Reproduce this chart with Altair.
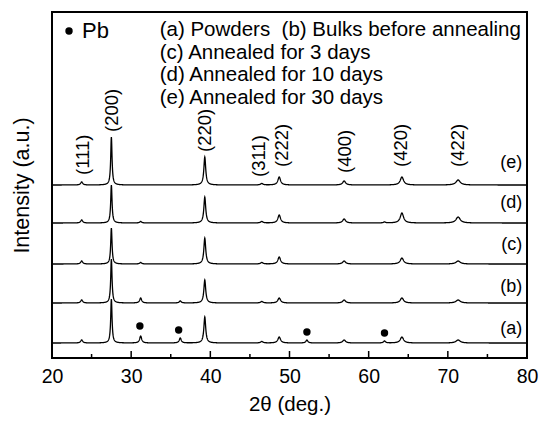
import altair as alt
import numpy as np
import pandas as pd

# ---- data ----
series = ["(a)", "(b)", "(c)", "(d)", "(e)"]
offsets = [15, 55, 94, 135, 173]          # baseline of each stacked pattern
peak_pos = [23.75, 27.5, 39.3, 46.5, 48.7, 56.9, 64.2, 71.3]   # FCC reflections
peak_hwhm = [0.15, 0.10, 0.14, 0.18, 0.20, 0.22, 0.25, 0.32]
peak_h = {
    "(a)": [3, 44, 26, 1.5, 6, 3, 6, 3],
    "(b)": [3, 44, 23, 1.5, 5, 3, 5, 3],
    "(c)": [3, 36, 26, 1.5, 7, 3, 6, 3],
    "(d)": [3, 38, 26, 1.5, 8, 4, 10, 6],
    "(e)": [3, 48, 28, 1.5, 8, 4, 8, 5],
}
pb_pos = [31.2, 36.2, 52.2, 62.0]
pb_h = {
    "(a)": [7, 5, 3, 2],
    "(b)": [5, 2, 0, 0],
    "(c)": [1.5, 0, 0, 0],
    "(d)": [1.5, 0, 0, 1],
    "(e)": [0, 0, 0, 0],
}
hkl_labels = ["(111)", "(200)", "(220)", "(311)", "(222)", "(400)", "(420)", "(422)"]
hkl_x = [23.9, 27.6, 39.3, 46.1, 49.0, 57.0, 64.1, 71.3]
hkl_y = [183, 226, 206, 181, 191, 185, 191, 191]
curve_label_y = [29, 71, 113, 155, 195]
pb_mark_x = [31.1, 36.0, 52.2, 62.0]
pb_mark_y = [32, 28, 26, 25]
legend_lines = ["(a) Powders\u00a0 (b) Bulks before annealing", "(c) Annealed for 3 days",
                "(d) Annealed for 10 days", "(e) Annealed for 30 days"]
legend_y = [328, 305, 283, 260]
major_ticks = [30, 40, 50, 60, 70]
minor_ticks = [25, 35, 45, 55, 65, 75]

# ---- build profiles from peak tables ----
tt = np.round(np.arange(20, 80.0001, 0.02), 3)
rows = []
for s, off in zip(series, offsets):
    y = np.full_like(tt, float(off))
    for p, w, h in zip(peak_pos, peak_hwhm, peak_h[s]):
        y += h / (1 + ((tt - p) / w) ** 2)
    for p, h in zip(pb_pos, pb_h[s]):
        if h:
            y += h / (1 + ((tt - p) / 0.15) ** 2)
    rows.append(pd.DataFrame({"x": tt, "y": y, "s": s}))
curves = pd.concat(rows)

FONT = "Liberation Sans"
xs = alt.Scale(domain=[20, 80], nice=False, zero=False)
ys = alt.Scale(domain=[0, 346], nice=False, zero=False)

lines = alt.Chart(curves).mark_line(color="black", strokeWidth=1.3, clip=True).encode(
    x=alt.X("x:Q", scale=xs, title="2θ (deg.)",
            axis=alt.Axis(values=[20, 30, 40, 50, 60, 70, 80], format="d", tickSize=0,
                          domain=False, grid=False, labelFontSize=19.5, labelFont=FONT,
                          labelColor="black", labelPadding=9, labelFlush=False,
                          titleFont=FONT, titleFontSize=20.5, titleFontWeight="normal",
                          titleColor="black", titlePadding=9)),
    y=alt.Y("y:Q", scale=ys, title="Intensity (a.u.)",
            axis=alt.Axis(labels=False, ticks=False, domain=False, grid=False,
                          titleFont=FONT, titleFontSize=21.5, titleFontWeight="normal",
                          titleColor="black", titlePadding=19)),
    detail="s:N",
)

tick_major = alt.Chart(pd.DataFrame({"x": major_ticks})).mark_rule(color="black", strokeWidth=1.5).encode(
    x=alt.X("x:Q", scale=xs), y=alt.value(346), y2=alt.value(339))
tick_minor = alt.Chart(pd.DataFrame({"x": minor_ticks})).mark_rule(color="black", strokeWidth=1.5).encode(
    x=alt.X("x:Q", scale=xs), y=alt.value(346), y2=alt.value(342))

hkl = alt.Chart(pd.DataFrame({"x": hkl_x, "y": hkl_y, "t": hkl_labels})).mark_text(
    angle=270, align="left", baseline="middle", font=FONT, fontSize=18.5, color="black").encode(
    x=alt.X("x:Q", scale=xs), y=alt.Y("y:Q", scale=ys), text="t:N")

clabels = alt.Chart(pd.DataFrame({"x": [79.4] * 5, "y": curve_label_y, "t": series})).mark_text(
    align="right", baseline="middle", font=FONT, fontSize=18, color="black").encode(
    x=alt.X("x:Q", scale=xs), y=alt.Y("y:Q", scale=ys), text="t:N")

pbm = alt.Chart(pd.DataFrame({"x": pb_mark_x + [22.15], "y": pb_mark_y + [327]})).mark_point(
    shape="circle", filled=True, color="black", size=55, opacity=1).encode(
    x=alt.X("x:Q", scale=xs), y=alt.Y("y:Q", scale=ys))

pbtext = alt.Chart(pd.DataFrame({"x": [23.8], "y": [327], "t": ["Pb"]})).mark_text(
    align="left", baseline="middle", font=FONT, fontSize=22, color="black").encode(
    x=alt.X("x:Q", scale=xs), y=alt.Y("y:Q", scale=ys), text="t:N")

legend = alt.Chart(pd.DataFrame({"x": [33.6] * 4, "y": legend_y, "t": legend_lines})).mark_text(
    align="left", baseline="middle", font=FONT, fontSize=20.5, color="black").encode(
    x=alt.X("x:Q", scale=xs), y=alt.Y("y:Q", scale=ys), text="t:N")

chart = alt.layer(lines, tick_major, tick_minor, hkl, clabels, pbm, pbtext, legend).properties(
    width=475, height=346, autosize=alt.AutoSizeParams(type="none"),
    padding={"left": 52, "top": 12, "right": 12, "bottom": 64},
    background="white",
).configure_view(stroke="black", strokeWidth=2)

chart.save("out.html", embed_options={"renderer": "svg", "actions": False})
